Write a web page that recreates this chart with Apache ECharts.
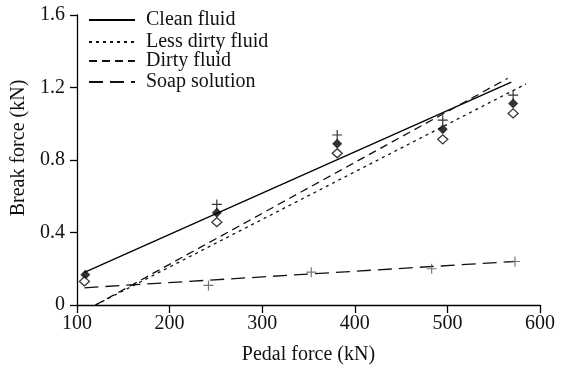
<!DOCTYPE html>
<html>
<head>
<meta charset="utf-8">
<script src="https://cdn.jsdelivr.net/npm/echarts@6/dist/echarts.min.js"></script>
<style>html,body{margin:0;padding:0;background:#fff;}#c{width:565px;height:370px;}</style>
</head>
<body>
<div id="c"></div>
<script>
// ---- data ----
const xTicks = [100, 200, 300, 400, 500, 600];
const yTicks = [0, 0.4, 0.8, 1.2, 1.6];
const seriesNames = ['Clean fluid', 'Less dirty fluid', 'Dirty fluid', 'Soap solution'];
// fitted lines (start / end points)
const cleanLine = [[108, 0.18], [569, 1.23]];
const lessDirtyLine = [[120, 0.0], [585, 1.22]];
const dirtyLine = [[120, 0.0], [565, 1.25]];
const soapLine = [[108, 0.095], [572, 0.24]];
// measured points
const cleanPts = [[109, 0.167], [251, 0.509], [381, 0.89], [495, 0.969], [571, 1.112]];
const lessDirtyPts = [[108, 0.13], [251, 0.457], [381, 0.837], [495, 0.914], [571, 1.057]];
const dirtyPts = [[251, 0.555], [381, 0.938], [495, 1.02], [571, 1.158]];
const soapPts = [[242, 0.108], [353, 0.181], [483, 0.2], [573, 0.24]];

const FONT = 'Liberation Serif';
const plus = 'path://M0,5L10,5M5,0L5,10';
const chart = echarts.init(document.getElementById('c'));

function lineSeries(name, data, type, color) {
  return {
    name: name, type: 'line', data: data, symbol: 'none', silent: true,
    itemStyle: {color: color},
    lineStyle: {color: color, width: 1.3, type: type}, z: 2
  };
}
function legend(name, top, pad) {
  return {
    data: [name], left: 88, top: top, padding: 0, itemWidth: 46, itemHeight: 12,
    selectedMode: false,
    itemStyle: {color: 'rgba(0,0,0,0)', borderWidth: 0, opacity: 0},
    textStyle: {fontFamily: FONT, fontSize: 20, color: '#111', padding: pad}
  };
}

chart.setOption({
  animation: false,
  backgroundColor: '#fff',
  grid: {left: 77, right: 25, top: 15, bottom: 61, containLabel: false},
  legend: [
    legend(seriesNames[0], 10, [0, 0, 0, 6]),
    legend(seriesNames[1], 32, [0, 0, 6, 6]),
    legend(seriesNames[2], 51, [10, 0, 0, 6]),
    legend(seriesNames[3], 72, [8, 0, 0, 6])
  ],
  xAxis: {
    type: 'value', min: xTicks[0], max: xTicks[xTicks.length - 1], interval: 100,
    name: 'Pedal force (kN)', nameLocation: 'middle', nameGap: 40,
    nameTextStyle: {fontFamily: FONT, fontSize: 20, color: '#111'},
    axisLine: {show: true, onZero: false, lineStyle: {color: '#000', width: 1.3}},
    axisTick: {show: true, inside: false, length: 8, lineStyle: {color: '#000', width: 1.3}},
    axisLabel: {fontFamily: FONT, fontSize: 20, color: '#111', margin: 9},
    splitLine: {show: false}
  },
  yAxis: {
    type: 'value', min: yTicks[0], max: yTicks[yTicks.length - 1], interval: 0.4,
    name: 'Break force (kN)', nameLocation: 'middle', nameGap: 47,
    nameTextStyle: {fontFamily: FONT, fontSize: 20, color: '#111', padding: [0, 0, 0, 24]},
    axisLine: {show: true, onZero: false, lineStyle: {color: '#000', width: 1.3}},
    axisTick: {show: true, inside: false, length: 7, lineStyle: {color: '#000', width: 1.3}},
    axisLabel: {fontFamily: FONT, fontSize: 20, color: '#111', margin: 12,
      formatter: v => (v === 0 ? '0' : v.toFixed(1))},
    splitLine: {show: false}
  },
  series: [
    lineSeries(seriesNames[0], cleanLine, 'solid', '#000'),
    lineSeries(seriesNames[1], lessDirtyLine, [3, 4], '#111'),
    lineSeries(seriesNames[2], dirtyLine, [8, 5], '#111'),
    lineSeries(seriesNames[3], soapLine, [14, 7], '#111'),
    {name: 'cleanPts', type: 'scatter', data: cleanPts, symbol: 'diamond', symbolSize: [10, 10],
      itemStyle: {color: '#000'}, z: 3, silent: true},
    {name: 'lessDirtyPts', type: 'scatter', data: lessDirtyPts, symbol: 'diamond', symbolSize: [10, 9],
      itemStyle: {color: '#fff', borderColor: '#000', borderWidth: 1.3}, z: 3, silent: true},
    {name: 'dirtyPts', type: 'scatter', data: dirtyPts, symbol: plus, symbolSize: 10,
      itemStyle: {color: 'none', borderColor: '#000', borderWidth: 1.2}, z: 3, silent: true},
    {name: 'soapPts', type: 'scatter', data: soapPts, symbol: plus, symbolSize: 10,
      itemStyle: {color: 'none', borderColor: '#555', borderWidth: 1.2}, z: 3, silent: true}
  ]
});
</script>
</body>
</html>
